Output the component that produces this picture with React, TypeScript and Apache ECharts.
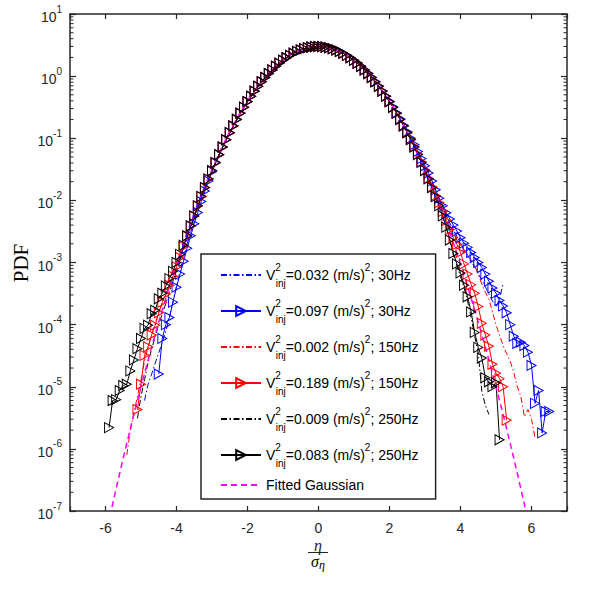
import React, { useEffect, useRef } from "react";
import * as echarts from "echarts";

// bin centres of eta / sigma_eta
const etaGrid = [
  -6.0, -5.9, -5.8, -5.7, -5.6, -5.5, -5.4, -5.3, -5.2, -5.1, -5.0, -4.9, -4.8, -4.7, -4.6, -4.5, -4.4, -4.3, -4.2, -4.1,
  -4.0, -3.9, -3.8, -3.7, -3.6, -3.5, -3.4, -3.3, -3.2, -3.1, -3.0, -2.9, -2.8, -2.7, -2.6, -2.5, -2.4, -2.3, -2.2, -2.1,
  -2.0, -1.9, -1.8, -1.7, -1.6, -1.5, -1.4, -1.3, -1.2, -1.1, -1.0, -0.9, -0.8, -0.7, -0.6, -0.5, -0.4, -0.3, -0.2, -0.1,
  0.0, 0.1, 0.2, 0.3, 0.4, 0.5, 0.6, 0.7, 0.8, 0.9, 1.0, 1.1, 1.2, 1.3, 1.4, 1.5, 1.6, 1.7, 1.8, 1.9,
  2.0, 2.1, 2.2, 2.3, 2.4, 2.5, 2.6, 2.7, 2.8, 2.9, 3.0, 3.1, 3.2, 3.3, 3.4, 3.5, 3.6, 3.7, 3.8, 3.9,
  4.0, 4.1, 4.2, 4.3, 4.4, 4.5, 4.6, 4.7, 4.8, 4.9, 5.0, 5.1, 5.2, 5.3, 5.4, 5.5, 5.6, 5.7, 5.8, 5.9,
  6.0, 6.1, 6.2, 6.3, 6.4, 6.5,
];

const injAmp = ["0.032", "0.097", "0.002", "0.189", "0.009", "0.083"];
const injFreq = ["30Hz", "30Hz", "150Hz", "150Hz", "250Hz", "250Hz"];

// each series: first bin centre + PDF values on consecutive bins
const blueDashStart = -4.9;
const blueDashPdf = [
  6e-6, 1.1e-5, 1.6e-5, 2.4e-5, 3.5e-5, 5.2e-5, 7.8e-5, 1.3e-4, 2.3e-4, 4.2e-4, 7.2e-4, 1.2e-3, 2.0e-3, 3.1e-3, 4.7e-3,
  0.0074, 0.0108, 0.0155, 0.022, 0.0302, 0.041, 0.055, 0.0725, 0.095, 0.124, 0.159, 0.202, 0.255, 0.316, 0.39, 0.476,
  0.575, 0.688, 0.812, 0.952, 1.1, 1.26, 1.44, 1.62, 1.8, 1.98, 2.16, 2.34, 2.5, 2.64, 2.77, 2.87, 2.94, 2.99, 3.0,
  2.99, 2.94, 2.87, 2.77, 2.64, 2.5, 2.34, 2.16, 1.98, 1.8, 1.62, 1.44, 1.27, 1.11, 0.955, 0.815, 0.69, 0.578, 0.478,
  0.392, 0.318, 0.256, 0.204, 0.16, 0.125,
  0.099, 0.077, 0.059, 0.045, 0.034, 0.026, 0.0192, 0.0143, 0.0104, 0.0077, 0.0057, 0.0043,
  3.3e-3, 2.6e-3, 2.05e-3, 1.65e-3, 1.3e-3, 1.05e-3, 8.4e-4, 6.6e-4, 5.2e-4, 4.1e-4, 3.1e-4, 2.4e-4, 1.9e-4, 2.6e-4, 4.6e-4,
];

const blueMarkStart = -4.5;
const blueMarkPdf = [
  1.6e-5, 6.0e-5, 1.0e-4, 1.3e-4, 2.3e-4, 4.0e-4, 6.5e-4, 1.05e-3, 1.7e-3, 2.7e-3, 4.2e-3,
  0.0064, 0.0096, 0.0142, 0.0205, 0.029, 0.0398, 0.0542, 0.0722, 0.095, 0.124, 0.159, 0.203, 0.255, 0.317, 0.39, 0.476,
  0.575, 0.687, 0.812, 0.952, 1.1, 1.26, 1.44, 1.62, 1.8, 1.98, 2.16, 2.34, 2.5, 2.64, 2.77, 2.87, 2.94, 2.99, 3.0,
  2.99, 2.94, 2.87, 2.77, 2.64, 2.5, 2.34, 2.16, 1.98, 1.8, 1.62, 1.44, 1.27, 1.11, 0.957, 0.818, 0.693, 0.58, 0.48,
  0.394, 0.32, 0.258, 0.206, 0.162, 0.127,
  0.1, 0.079, 0.061, 0.047, 0.036, 0.0275, 0.0205, 0.0148,
  0.0108, 0.0082, 0.0063, 0.005, 0.004, 0.0032, 0.0025, 2.05e-3, 1.75e-3, 1.45e-3, 1.2e-3, 1.0e-3, 8.3e-4, 6.5e-4,
  5.0e-4, 3.9e-4, 3.2e-4, 2.45e-4, 2.0e-4, 1.55e-4, 1.0e-4, 6.5e-5, 5.0e-5, 5.2e-5, 4.6e-5, 3.6e-5, 2.2e-5, 5.4e-6,
  8.7e-6, 1.8e-6, 4.0e-6, 4.0e-6,
];

const redDashStart = -5.4;
const redDashPdf = [
  8e-7, 2.0e-6, 3.8e-6, 7.0e-6, 1.3e-5, 2.6e-5, 4.3e-5, 7.0e-5, 1.05e-4, 1.55e-4, 2.2e-4, 3.0e-4, 4.2e-4, 5.9e-4, 8.4e-4,
  1.2e-3, 1.75e-3, 2.6e-3, 3.8e-3, 5.5e-3,
  0.0079, 0.0112, 0.0156, 0.0217, 0.0296, 0.0402, 0.0538, 0.0715, 0.094, 0.122, 0.157, 0.2, 0.252, 0.313, 0.386, 0.472,
  0.571, 0.683, 0.808, 0.948, 1.1, 1.26, 1.44, 1.62, 1.8, 1.98, 2.16, 2.34, 2.5, 2.64, 2.77, 2.87, 2.94, 2.99, 3.0,
  2.99, 2.94, 2.87, 2.77, 2.64, 2.5, 2.34, 2.16, 1.98, 1.8, 1.62, 1.44, 1.26, 1.1, 0.95, 0.81, 0.686, 0.574, 0.475,
  0.389, 0.316, 0.254, 0.202, 0.159, 0.124,
  0.097, 0.075, 0.057, 0.043, 0.032, 0.0238, 0.0176, 0.013, 0.0095, 0.007, 0.0051, 0.0038,
  2.9e-3, 2.3e-3, 1.9e-3, 1.6e-3, 1.3e-3, 1.1e-3, 8.9e-4, 6.5e-4, 4.5e-4, 3.3e-4, 2.6e-4, 1.6e-4, 1.0e-4, 6.8e-5,
  4.6e-5, 3.4e-5, 2.6e-5, 1.7e-5, 1.0e-5, 7.0e-6, 3.3e-6, 4.3e-6, 3.0e-6, 1.5e-6,
];

const redMarkStart = -5.1;
const redMarkPdf = [
  4.3e-6, 1.1e-5, 3.2e-5, 4.4e-5, 6.8e-5, 9.8e-5, 1.55e-4, 2.3e-4, 3.1e-4, 4.3e-4, 6.0e-4, 8.5e-4, 1.2e-3, 1.8e-3,
  2.65e-3, 3.85e-3, 5.6e-3,
  0.0081, 0.0114, 0.0159, 0.0219, 0.0299, 0.0405, 0.0541, 0.0718, 0.0942, 0.122, 0.157, 0.2, 0.252, 0.314, 0.387, 0.473,
  0.572, 0.684, 0.809, 0.949, 1.1, 1.26, 1.44, 1.62, 1.8, 1.98, 2.16, 2.34, 2.5, 2.64, 2.77, 2.87, 2.94, 2.98, 2.99,
  2.98, 2.93, 2.86, 2.76, 2.63, 2.49, 2.33, 2.15, 1.97, 1.79, 1.61, 1.43, 1.25, 1.09, 0.945, 0.806, 0.681, 0.57, 0.471,
  0.385, 0.313, 0.251, 0.2, 0.157, 0.122,
  0.096, 0.074, 0.056, 0.042, 0.031, 0.0228, 0.0166, 0.012, 0.0092, 0.0066, 0.0047, 0.0034,
  2.5e-3, 1.95e-3, 1.45e-3, 9.5e-4, 6.5e-4, 4.4e-4, 3.2e-4, 1.95e-4, 1.05e-4, 6.8e-5, 4.5e-5, 2.3e-5, 1.65e-5, 1.35e-5,
  1.0e-5, 2.9e-6,
];

const blackDashStart = -5.1;
const blackDashPdf = [
  3.1e-6, 7e-6, 1.3e-5, 2.5e-5, 4e-5, 6.5e-5, 1e-4, 1.5e-4, 2.2e-4, 3.3e-4, 5e-4, 7.5e-4, 1.1e-3, 1.65e-3, 2.5e-3,
  3.7e-3, 5.4e-3,
  0.008, 0.0113, 0.0158, 0.0218, 0.0298, 0.0404, 0.054, 0.0716, 0.094, 0.122, 0.157, 0.2, 0.252, 0.314, 0.387, 0.473,
  0.572, 0.684, 0.809, 0.949, 1.1, 1.26, 1.44, 1.62, 1.8, 1.98, 2.16, 2.34, 2.5, 2.64, 2.77, 2.87, 2.94, 2.99, 3.0,
  2.99, 2.94, 2.87, 2.77, 2.64, 2.5, 2.34, 2.16, 1.98, 1.8, 1.62, 1.44, 1.26, 1.1, 0.948, 0.808, 0.683, 0.571, 0.472,
  0.386, 0.313, 0.251, 0.2, 0.157, 0.122,
  0.0945, 0.072, 0.054, 0.0405, 0.0298, 0.0218, 0.0157, 0.0112, 0.0079, 0.0055, 0.0036, 0.0023,
  1.3e-3, 8.8e-4, 6.0e-4, 3.9e-4, 2.4e-4, 1.3e-4, 6.5e-5, 3.5e-5, 8.5e-6, 5.0e-6, 3.6e-6,
];

const blackMarkStart = -5.9;
const blackMarkPdf = [
  2.2e-6, 6.0e-6, 6.2e-6, 8.7e-6, 1.05e-5, 1.1e-5, 1.8e-5, 2.7e-5, 4.1e-5, 6.0e-5, 8.7e-5, 9.8e-5, 1.5e-4, 1.7e-4,
  2.6e-4, 3.2e-4, 4.2e-4, 5.5e-4, 7.2e-4, 1.0e-3, 1.35e-3, 1.9e-3, 2.7e-3, 3.9e-3, 5.6e-3,
  0.0082, 0.0116, 0.0161, 0.0222, 0.0302, 0.0409, 0.0546, 0.0723, 0.0948, 0.123, 0.158, 0.201, 0.253, 0.315, 0.388, 0.474,
  0.573, 0.685, 0.81, 0.95, 1.1, 1.26, 1.44, 1.62, 1.8, 1.98, 2.16, 2.34, 2.5, 2.64, 2.77, 2.87, 2.94, 2.99, 3.0,
  2.99, 2.94, 2.87, 2.77, 2.64, 2.5, 2.34, 2.16, 1.98, 1.8, 1.62, 1.44, 1.26, 1.1, 0.95, 0.81, 0.685, 0.573, 0.474,
  0.388, 0.315, 0.253, 0.201, 0.158, 0.123,
  0.0947, 0.0722, 0.0545, 0.0408, 0.0301, 0.0221, 0.016, 0.0115, 0.0082, 0.0056, 0.0037, 0.0023,
  1.4e-3, 9.5e-4, 6.8e-4, 4.3e-4, 2.8e-4, 1.6e-4, 7.5e-5, 4.3e-5, 2.9e-5, 1.4e-5, 1.2e-5, 1.0e-5, 1.15e-5, 1.4e-6,
];

// fitted Gaussian curve
const gaussEta = [
  -6, -5.75, -5.5, -5.25, -5, -4.75, -4.5, -4.25, -4, -3.75, -3.5, -3.25, -3, -2.75, -2.5, -2.25, -2, -1.75, -1.5,
  -1.25, -1, -0.75, -0.5, -0.25, 0, 0.25, 0.5, 0.75, 1, 1.25, 1.5, 1.75, 2, 2.25, 2.5, 2.75, 3, 3.25, 3.5, 3.75, 4,
  4.25, 4.5, 4.75, 5, 5.25, 5.5, 5.75, 6,
];
const gaussPdf = [
  3.92e-8, 1.72e-7, 7.12e-7, 2.76e-6, 1.005e-5, 3.44e-5, 1.102e-4, 3.32e-4, 9.4e-4, 2.497e-3, 6.23e-3, 0.01459,
  0.0321, 0.0662, 0.1283, 0.2335, 0.399, 0.64, 0.965, 1.364, 1.812, 2.258, 2.645, 2.907, 3.0, 2.907, 2.645, 2.258,
  1.812, 1.364, 0.965, 0.64, 0.399, 0.2335, 0.1283, 0.0662, 0.0321, 0.01459, 6.23e-3, 2.497e-3, 9.4e-4, 3.32e-4,
  1.102e-4, 3.44e-5, 1.005e-5, 2.76e-6, 7.12e-7, 1.72e-7, 3.92e-8,
];

const xTickLabels = ["-6", "-4", "-2", "0", "2", "4", "6"];

const AXIS = "#262626";
const TRI = "path://M0,0L10,5L0,10Z";
const DASHDOT = [6, 2.5, 1.5, 2.5];

function binned(start: number, values: number[]) {
  const i0 = etaGrid.findIndex((e) => Math.abs(e - start) < 1e-9);
  return values.map((v, i) => [etaGrid[i0 + i], v]);
}

const names = injAmp.map((a, i) => `V2inj=${a} (m/s)2; ${injFreq[i]}`);
const GAUSS_NAME = "Fitted Gaussian";

export default function App() {
  const ref = useRef<HTMLDivElement>(null);
  useEffect(() => {
    if (!ref.current) return;
    const chart = echarts.init(ref.current, null, { renderer: "svg" });

    const defs = [
      { start: blueDashStart, values: blueDashPdf, color: "#0000ff", marker: false },
      { start: blueMarkStart, values: blueMarkPdf, color: "#0000ff", marker: true },
      { start: redDashStart, values: redDashPdf, color: "#ff0000", marker: false },
      { start: redMarkStart, values: redMarkPdf, color: "#ff0000", marker: true },
      { start: blackDashStart, values: blackDashPdf, color: "#000000", marker: false },
      { start: blackMarkStart, values: blackMarkPdf, color: "#000000", marker: true },
    ];

    const dataSeries: any[] = defs.map((d, i) => ({
      type: "line",
      name: names[i],
      data: binned(d.start, d.values),
      showSymbol: d.marker,
      symbol: d.marker ? TRI : "none",
      symbolSize: [9, 10],
      symbolKeepAspect: false,
      itemStyle: { color: "rgba(0,0,0,0)", borderColor: d.color, borderWidth: 1 },
      lineStyle: { color: d.color, width: 1, type: d.marker ? "solid" : DASHDOT },
      emphasis: { disabled: true },
      silent: true,
      clip: true,
    }));

    const minorTicks: number[] = [];
    for (let e = -7; e < 1; e++) for (let m = 2; m <= 9; m++) minorTicks.push(m * Math.pow(10, e));

    const gaussSeries = {
      type: "line",
      name: GAUSS_NAME,
      data: gaussEta.map((x, i) => [x, gaussPdf[i]]),
      showSymbol: false,
      symbol: "none",
      itemStyle: { color: "#ff00ff" },
      lineStyle: { color: "#ff00ff", width: 1.5, type: [6, 4] },
      emphasis: { disabled: true },
      silent: true,
      clip: true,
    };

    const minorSeries = {
      type: "custom",
      silent: true,
      clip: false,
      z: 10,
      data: minorTicks.map((v) => [-7, v]),
      renderItem: (_p: any, api: any) => {
        const v = api.value(1);
        const a = api.coord([-7, v]);
        const b = api.coord([7, v]);
        return {
          type: "group",
          children: [
            { type: "line", shape: { x1: a[0], y1: a[1], x2: a[0] + 3.5, y2: a[1] }, style: { stroke: AXIS, lineWidth: 1 } },
            { type: "line", shape: { x1: b[0] - 3.5, y1: b[1], x2: b[0], y2: b[1] }, style: { stroke: AXIS, lineWidth: 1 } },
          ],
        };
      },
    };

    const legendRich = {
      txt: { fontSize: 14, lineHeight: 26, color: "#000000", fontFamily: "Liberation Sans", verticalAlign: "middle" },
      sq0: { fontSize: 10, lineHeight: 13, width: 0.5, color: "#000000", fontFamily: "Liberation Sans", verticalAlign: "top" },
      sub: { fontSize: 10, lineHeight: 13, color: "#000000", fontFamily: "Liberation Sans", verticalAlign: "bottom" },
      sq: { fontSize: 10, lineHeight: 13, color: "#000000", fontFamily: "Liberation Sans", verticalAlign: "top" },
      gs: { fontSize: 14, lineHeight: 16, color: "#000000", fontFamily: "Liberation Sans" },
    };
    const noMarker = { color: "rgba(0,0,0,0)", borderColor: "rgba(0,0,0,0)", borderWidth: 0 };

    const xAxisCommon = {
      type: "value",
      min: -7,
      max: 7,
      splitNumber: 7,
      axisLine: { show: true, onZero: false, lineStyle: { color: AXIS, width: 1.5 } },
      axisTick: { show: true, inside: true, length: 5, lineStyle: { color: AXIS, width: 1.2 } },
      splitLine: { show: false },
    };
    const yAxisCommon = {
      type: "log",
      logBase: 10,
      min: 1e-7,
      max: 10,
      interval: 1,
      splitNumber: 8,
      axisLine: { show: true, onZero: false, lineStyle: { color: AXIS, width: 1.5 } },
      axisTick: { show: true, inside: true, length: 6, lineStyle: { color: AXIS, width: 1.2 } },
      splitLine: { show: false },
      minorTick: { show: false },
    };

    chart.setOption({
      animation: false,
      backgroundColor: "#ffffff",
      grid: { left: 70, right: 33, top: 14, bottom: 89 },
      xAxis: [
        {
          ...xAxisCommon,
          position: "bottom",
          axisLabel: {
            show: true,
            margin: 10,
            color: AXIS,
            fontSize: 14,
            fontFamily: "Liberation Sans",
            formatter: (v: number) => {
              const s = String(Math.round(v));
              return xTickLabels.indexOf(s) >= 0 ? s : "";
            },
          },
        },
        { ...xAxisCommon, position: "top", axisLabel: { show: false } },
      ],
      yAxis: [
        {
          ...yAxisCommon,
          position: "left",
          axisLabel: {
            show: true,
            margin: 8,
            color: AXIS,
            formatter: (v: number) => `{b|10}{e|${Math.round(Math.log10(v))}}`,
            rich: {
              b: { fontSize: 14, fontFamily: "Liberation Sans", color: AXIS, lineHeight: 20, verticalAlign: "bottom" },
              e: { fontSize: 10, fontFamily: "Liberation Sans", color: AXIS, lineHeight: 20, verticalAlign: "top" },
            },
          },
        },
        { ...yAxisCommon, position: "right", axisLabel: { show: false } },
      ],
      legend: {
        show: true,
        orient: "vertical",
        left: 201,
        top: 254,
        padding: [8, 17, 7, 19],
        itemWidth: 40,
        itemHeight: 12,
        itemGap: 10,
        borderColor: AXIS,
        borderWidth: 1.5,
        backgroundColor: "#ffffff",
        selectedMode: false,
        data: [
          { name: names[0], itemStyle: noMarker },
          { name: names[1] },
          { name: names[2], itemStyle: noMarker },
          { name: names[3] },
          { name: names[4], itemStyle: noMarker },
          { name: names[5] },
          { name: GAUSS_NAME, itemStyle: noMarker },
        ],
        textStyle: { fontFamily: "Liberation Sans", fontSize: 14, color: "#000000", rich: legendRich },
        formatter: (name: string) => {
          const i = names.indexOf(name);
          if (i < 0) return `{gs|${name}}`;
          return `{txt|V}{sq0|2}{sub|inj}{txt|=${injAmp[i]} (m/s)}{sq|2}{txt|; ${injFreq[i]}}`;
        },
      },
      graphic: [
        {
          type: "text",
          x: 21,
          y: 263,
          rotation: Math.PI / 2,
          silent: true,
          style: { text: "PDF", fontFamily: "Liberation Serif", fontSize: 21, fill: "#000", align: "center", verticalAlign: "middle" },
        },
        {
          type: "text",
          x: 318,
          y: 545,
          silent: true,
          style: { text: "η", fontFamily: "Liberation Serif", fontStyle: "italic", fontSize: 16, fill: AXIS, align: "center", verticalAlign: "middle" },
        },
        {
          type: "line",
          silent: true,
          shape: { x1: 308, y1: 552.5, x2: 328, y2: 552.5 },
          style: { stroke: AXIS, lineWidth: 1 },
        },
        {
          type: "text",
          x: 318,
          y: 562,
          silent: true,
          style: {
            text: "{a|σ}{b|η}",
            align: "center",
            verticalAlign: "middle",
            rich: {
              a: { fontFamily: "Liberation Serif", fontStyle: "italic", fontSize: 16, color: AXIS, lineHeight: 18, verticalAlign: "top" },
              b: { fontFamily: "Liberation Serif", fontStyle: "italic", fontSize: 12, color: AXIS, lineHeight: 18, verticalAlign: "bottom" },
            },
          },
        },
      ],
      series: [...dataSeries, gaussSeries, minorSeries],
    });

    return () => chart.dispose();
  }, []);

  return <div ref={ref} style={{ position: "fixed", left: 0, top: 0, width: 600, height: 600 }} />;
}
